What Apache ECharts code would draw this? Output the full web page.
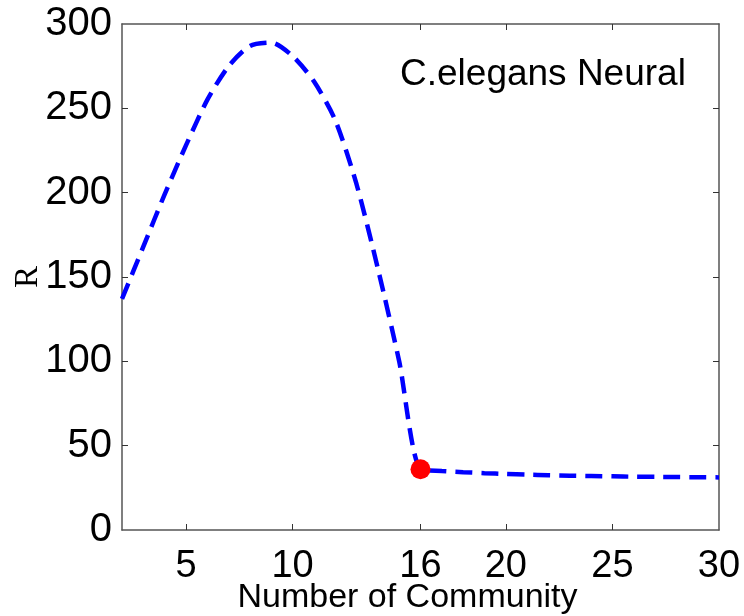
<!DOCTYPE html>
<html>
<head>
<meta charset="utf-8">
<script src="https://cdn.jsdelivr.net/npm/echarts@6/dist/echarts.min.js"></script>
<style>
  html, body { margin: 0; padding: 0; background: #fff; }
  #chart { width: 744px; height: 616px; }
</style>
</head>
<body>
<div id="chart"></div>
<script>
// Number of communities and the corresponding R value
const communities = [2, 3, 4, 5, 6, 7, 8, 9, 10, 11, 12, 13, 14, 15, 16,
  17, 18, 19, 20, 21, 22, 23, 24, 25, 26, 27, 28, 29, 30];
const rValues = [137, 168, 199, 228, 255, 275, 287, 289, 281, 266, 243, 205, 155, 100, 36,
  35, 34.3, 33.7, 33.2, 32.8, 32.5, 32.2, 32, 31.8, 31.6, 31.5, 31.4, 31.3, 31.2];

// Highlighted optimum
const optimalCommunity = 16;
const optimalR = 36;

// Axis ticks
const xTicks = [5, 10, 16, 20, 25, 30];
const yTicks = [0, 50, 100, 150, 200, 250, 300];

const FONT = 'Liberation Sans, Arial, sans-serif';
const AXIS_COLOR = '#555';

const chart = echarts.init(document.getElementById('chart'), null, { renderer: 'canvas' });

const linePoints = communities.map((c, i) => [c, rValues[i]]);

const xBase = {
  type: 'value',
  min: 2,
  max: 30,
  splitLine: { show: false },
  axisLine: { show: true, onZero: false, lineStyle: { color: AXIS_COLOR, width: 1.5 } },
  axisTick: { show: true, inside: true, length: 6, customValues: xTicks.slice(0, -1),
    lineStyle: { color: '#333', width: 1 } }
};
const yBase = {
  type: 'value',
  min: 0,
  max: 300,
  interval: 50,
  splitLine: { show: false },
  axisLine: { show: true, onZero: false, lineStyle: { color: AXIS_COLOR, width: 1.5 } },
  axisTick: { show: true, inside: true, length: 6, customValues: yTicks.slice(1, -1),
    lineStyle: { color: '#333', width: 1 } }
};

chart.setOption({
  animation: false,
  backgroundColor: '#fff',
  grid: { left: 122, right: 25, top: 24, bottom: 86, containLabel: false, outerBoundsMode: 'none' },
  title: {
    text: 'C.elegans Neural',
    left: 395,
    top: 51,
    textStyle: { fontFamily: FONT, fontSize: 37, fontWeight: 'normal', color: '#000' }
  },
  xAxis: [
    Object.assign({}, xBase, {
      position: 'bottom',
      name: 'Number of Community',
      nameLocation: 'middle',
      nameGap: 51,
      nameMoveOverlap: false,
      nameTextStyle: { fontFamily: FONT, fontSize: 34, color: '#000', padding: [0, 26, 0, 0] },
      axisLabel: { show: true, customValues: xTicks, margin: 18,
        fontFamily: FONT, fontSize: 38, color: '#000' }
    }),
    Object.assign({}, xBase, {
      position: 'top',
      axisLabel: { show: false }
    })
  ],
  yAxis: [
    Object.assign({}, yBase, {
      position: 'left',
      name: 'R',
      nameLocation: 'middle',
      nameGap: 77,
      nameMoveOverlap: false,
      nameRotate: 90,
      nameTextStyle: { fontFamily: 'Liberation Serif, Times New Roman, serif', fontSize: 33, color: '#000' },
      axisLabel: { show: true, margin: 10, fontFamily: FONT, fontSize: 40, color: '#000' }
    }),
    Object.assign({}, yBase, {
      position: 'right',
      axisLabel: { show: false }
    })
  ],
  series: [
    {
      type: 'line',
      xAxisIndex: 0,
      yAxisIndex: 0,
      data: linePoints,
      showSymbol: false,
      smooth: 0.25,
      lineStyle: { color: '#0000ff', width: 4.5, type: [17, 9], cap: 'butt' },
      z: 2
    },
    {
      type: 'scatter',
      xAxisIndex: 0,
      yAxisIndex: 0,
      data: [[optimalCommunity, optimalR]],
      symbol: 'circle',
      symbolSize: 20,
      itemStyle: { color: '#ff0000', opacity: 1 },
      z: 3
    }
  ]
});
</script>
</body>
</html>
